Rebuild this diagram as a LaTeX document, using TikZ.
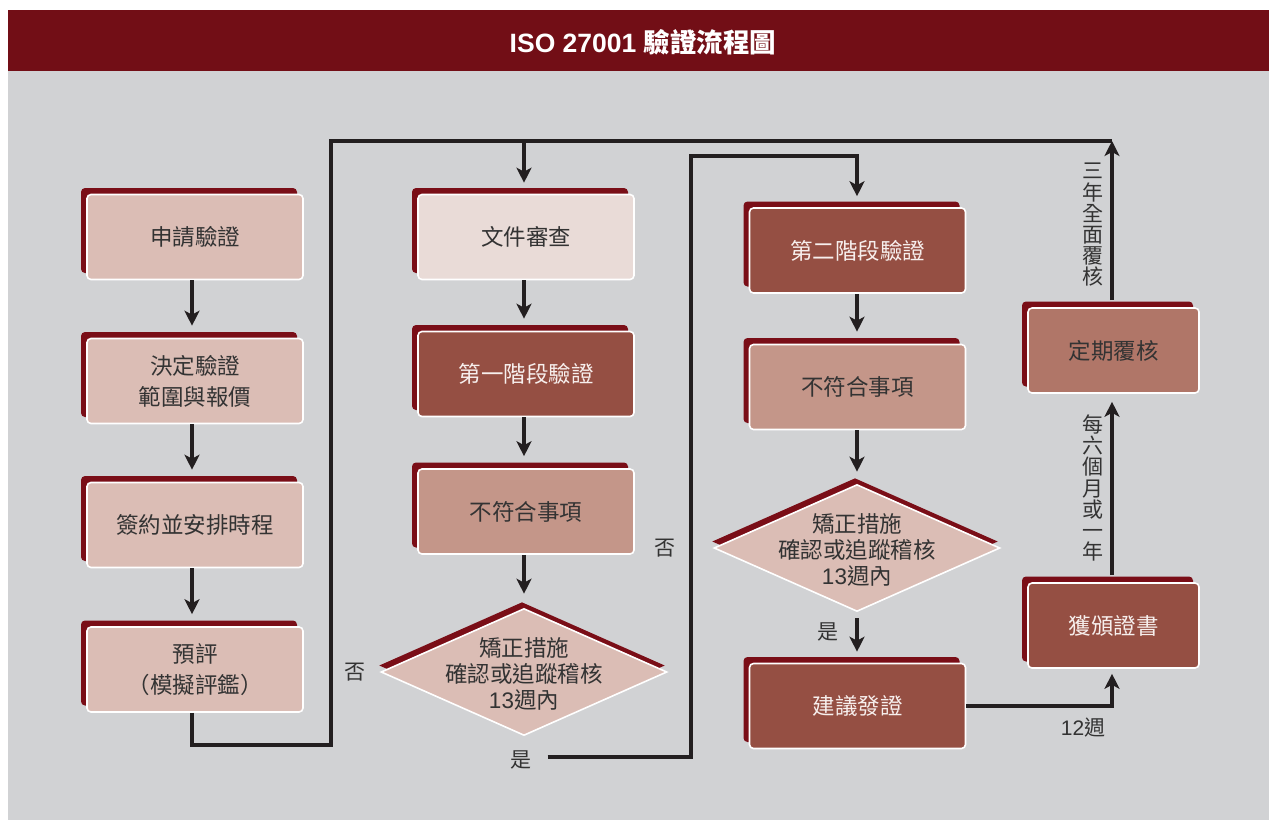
\documentclass[tikz,border=0pt]{standalone}
\usepackage{fontspec}
\setmainfont{Liberation Sans}
\newfontfamily\cjk{Noto Sans CJK TC}
\newfontfamily\lat{Liberation Sans}
\usetikzlibrary{shapes.geometric,arrows.meta,shadows,calc}
\definecolor{hdr}{HTML}{720E16}
\definecolor{bg}{HTML}{D1D2D4}
\definecolor{shred}{HTML}{7A0E17}
\definecolor{lightbox}{HTML}{DBBDB5}
\definecolor{paleb}{HTML}{E9DBD7}
\definecolor{darkb}{HTML}{954F43}
\definecolor{midb}{HTML}{C49689}
\definecolor{rosb}{HTML}{B07668}
\definecolor{txt}{HTML}{333333}
\definecolor{wtxt}{HTML}{F7EFED}
\definecolor{ink}{HTML}{231F20}
\begin{document}
\begin{tikzpicture}[x=1pt,y=-1pt,
  box/.style={rectangle, rounded corners=4pt, draw=white, line width=1.6pt,
    minimum width=216pt, minimum height=85pt, inner sep=0pt, align=center,
    font=\cjk\fontsize{22.5}{31}\selectfont, text=txt, fill=lightbox,
    general shadow={fill=shred, shadow xshift=-6pt, shadow yshift=6.5pt}},
  narrow/.style={minimum width=171pt},
  dia/.style={diamond, minimum width=286pt, minimum height=127pt, inner sep=0pt,
    draw=white, line width=1.6pt, fill=lightbox,
    general shadow={fill=shred, shadow xshift=-2pt, shadow yshift=6.5pt}},
  dtext/.style={align=center, font=\cjk\fontsize{22.5}{26}\selectfont, text=txt, inner sep=0pt},
  lbl/.style={font=\cjk\fontsize{21}{21.2}\selectfont, text=txt, inner sep=0pt, align=center},
  ln/.style={draw=ink, line width=3.2pt, line join=miter},
  arr/.style={ln, -{Stealth[length=15pt,width=15pt,inset=4pt]}},
]
\useasboundingbox (0,0) rectangle (1269,820);
\fill[white] (0,0) rectangle (1269,820);
\fill[bg] (8,71) rectangle (1269,820);
\fill[hdr] (8,10) rectangle (1269,71);
\node[text=white, font=\bfseries\fontsize{26.5}{26.5}\selectfont, inner sep=0pt] (title) at (643,42) {ISO 27001 {\cjk\bfseries 驗證流程圖}};

% column 1
\node[box] (a1) at (195,237) {申請驗證};
\node[box] (a2) at (195,381) {決定驗證\\範圍與報價};
\node[box] (a3) at (195,525) {簽約並安排時程};
\node[box] (a4) at (195,669.5) {預評\\（模擬評鑑）};

% column 2
\node[box, fill=paleb] (b1) at (526,237) {文件審查};
\node[box, fill=darkb, text=wtxt] (b2) at (526,374) {第一階段驗證};
\node[box, fill=midb] (b3) at (526,511.5) {不符合事項};
\node[dia] (d1) at (524,672) {};
\node[dtext] (d1t) at (524,674) {矯正措施\\確認或追蹤稽核\\{\lat 13}週內};

% column 3
\node[box, fill=darkb, text=wtxt] (c1) at (857.5,250.5) {第二階段驗證};
\node[box, fill=midb] (c2) at (857.5,387) {不符合事項};
\node[dia] (d2) at (857,548) {};
\node[dtext] (d2t) at (857,550) {矯正措施\\確認或追蹤稽核\\{\lat 13}週內};
\node[box, fill=darkb, text=wtxt] (c3) at (857.5,706) {建議發證};

% column 4
\node[box, narrow, fill=rosb] (e1) at (1113.5,350.5) {定期覆核};
\node[box, narrow, fill=darkb, text=wtxt] (e2) at (1113.5,625.5) {獲頒證書};

% labels
\node[lbl] (no1) at (355,672) {否};
\node[lbl] (yes1) at (521,760) {是};
\node[lbl] (no2) at (665,548) {否};
\node[lbl] (yes2) at (828,632) {是};
\node[lbl] (w12) at (1083,728) {{\lat 12}週};
\node[lbl] (v1) at (1093,225) {三\\年\\全\\面\\覆\\核};
\node[lbl] (v2) at (1093,488) {每\\六\\個\\月\\或\\一\\年};

\coordinate (top) at (1112,141);
\coordinate (loopL) at (331,745);
\coordinate (yesR) at (691,156);

% column 1 arrows
\foreach \s/\t in {a1/a2,a2/a3,a3/a4}
  \draw[arr, shorten >=12pt] ([xshift=-3pt]\s.south) -- ([xshift=-3pt]\t.north);
% loop
\draw[ln] ([xshift=-3pt]a4.south) |- (loopL) |- (top);
\draw[arr, shorten >=11pt] ([xshift=-2pt]b1.north |- top) -- ([xshift=-2pt]b1.north);
% column 2 arrows
\draw[arr, shorten >=12pt] ([xshift=-2pt]b1.south) -- ([xshift=-2pt]b2.north);
\draw[arr, shorten >=12pt] ([xshift=-2pt]b2.south) -- ([xshift=-2pt]b3.north);
\draw[arr, shorten >=14pt] ([xshift=-2pt]b3.south) -- (d1.north);
% yes path
\draw[arr, shorten >=11pt] ([shift={(16pt,3pt)}]yes1.east) -| (yesR) -| ([xshift=-0.5pt]c1.north);
% column 3 arrows
\draw[arr, shorten >=12pt] ([xshift=-0.5pt]c1.south) -- ([xshift=-0.5pt]c2.north);
\draw[arr, shorten >=12pt] ([xshift=-0.5pt]c2.south) -- (d2.north);
\draw[arr, shorten <=6pt, shorten >=11pt] (d2.south) -- ([xshift=-0.5pt]c3.north);
% to certificate
\draw[arr, shorten >=5pt] (c3.east) -| ([xshift=-1.5pt]e2.south);
\draw[arr, shorten >=8pt] ([shift={(-1.5pt,7pt)}]e2.north) -- ([xshift=-1.5pt]e1.south);
\draw[arr] ([shift={(-1.5pt,7pt)}]e1.north) -- (top);
\end{tikzpicture}
\end{document}
